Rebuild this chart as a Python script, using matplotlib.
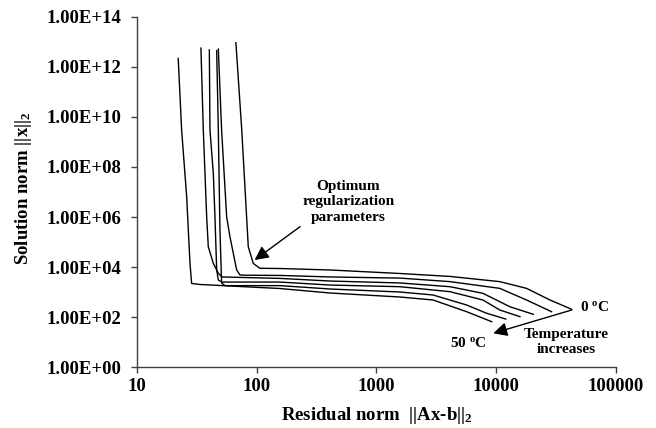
import matplotlib
matplotlib.use("Agg")
import matplotlib.pyplot as plt
import numpy as np
from matplotlib.ticker import FixedLocator, FuncFormatter, NullLocator

# -- Data: L-curves (residual norm vs solution norm) --
RES_0C = [67, 75, 82, 85, 93.5, 106, 156, 409, 1570, 4110, 10700, 17900, 28100, 42700]
SOL_0C = [9.4e12, 3.0e9, 1.4e6, 6.5e4, 1.4e4, 8.9e3, 8.7e3, 7.6e3, 5.5e3, 4.2e3, 2.6e3, 1.4e3, 479, 203]

RES_10C = [47.8, 50.9, 56.1, 59.8, 68, 72.5, 80, 156, 409, 1570, 4110, 10700, 17900, 29000]
SOL_10C = [5.2e12, 3.0e9, 1.0e6, 1.6e5, 7.6e3, 4.8e3, 4.7e3, 4.6e3, 4.0e3, 3.6e3, 2.6e3, 1.4e3, 479, 163]

RES_20C = [34.2, 35.8, 38.2, 39.4, 43.4, 47.8, 51.3, 156, 409, 1570, 4110, 7740, 13000, 20400]
SOL_20C = [5.7e12, 3.0e9, 1.0e6, 6.5e4, 1.4e4, 5.6e3, 4.0e3, 3.5e3, 2.75e3, 2.3e3, 1.63e3, 887, 258, 128]

RES_30C = [40.2, 40.7, 43.4, 44.8, 46.3, 47.8, 51.3, 156, 409, 1570, 4110, 7740, 10700, 15800]
SOL_30C = [4.8e12, 3.0e9, 5.6e7, 1.0e6, 7.6e3, 3.0e3, 2.5e3, 2.5e3, 1.9e3, 1.63e3, 1.03e3, 479, 191, 103]

RES_40C = [46.3, 47.8, 49.3, 50.9, 54.3, 156, 409, 1570, 2970, 5660, 8320, 12000]
SOL_40C = [4.5e12, 3.0e9, 3.0e5, 2.3e3, 1.8e3, 1.8e3, 1.32e3, 1.0e3, 759, 302, 141, 83]

RES_50C = [22.1, 23.6, 26.0, 27.7, 28.6, 33.6, 156, 409, 1570, 2970, 5660, 9160]
SOL_50C = [2.2e12, 3.0e9, 6.5e6, 1.45e4, 2.2e3, 2.0e3, 1.38e3, 912, 631, 479, 163, 65]

CURVES = [(RES_0C, SOL_0C), (RES_10C, SOL_10C), (RES_20C, SOL_20C),
          (RES_30C, SOL_30C), (RES_40C, SOL_40C), (RES_50C, SOL_50C)]

X_TICKS = [10, 100, 1000, 10000, 100000]
Y_TICKS = [1e0, 1e2, 1e4, 1e6, 1e8, 1e10, 1e12, 1e14]

# -- Style ---------------------------------------------------------------
plt.rcParams["font.family"] = "serif"
plt.rcParams["font.serif"] = ["Liberation Serif", "DejaVu Serif"]
plt.rcParams["font.weight"] = "bold"
plt.rcParams["mathtext.fontset"] = "custom"
plt.rcParams["mathtext.rm"] = "Liberation Serif:bold"
plt.rcParams["mathtext.it"] = "Liberation Serif:bold"
plt.rcParams["mathtext.bf"] = "Liberation Serif:bold"
plt.rcParams["mathtext.default"] = "rm"

AX_COL = "#404040"

fig = plt.figure(figsize=(6.56, 4.28), dpi=100)
ax = fig.add_axes([0.2088, 0.1425, 0.7302, 0.8178])

for res, sol in CURVES:
    ax.plot(res, sol, color="black", linewidth=1.0)

ax.set_xscale("log")
ax.set_yscale("log")
ax.set_xlim(10, 100000)
ax.set_ylim(1, 1e14)

ax.xaxis.set_major_locator(FixedLocator(X_TICKS))
ax.xaxis.set_minor_locator(NullLocator())
ax.xaxis.set_major_formatter(FuncFormatter(lambda v, _: f"{int(round(v))}"))
ax.yaxis.set_major_locator(FixedLocator(Y_TICKS))
ax.yaxis.set_minor_locator(NullLocator())
ax.yaxis.set_major_formatter(
    FuncFormatter(lambda v, _: f"1.00E+{int(round(np.log10(v))):02d}"))

ax.tick_params(axis="both", labelsize=13.5, length=4, width=1,
               color=AX_COL, direction="out")
ax.tick_params(axis="x", pad=4)
ax.tick_params(axis="y", pad=7)

for s in ("top", "right"):
    ax.spines[s].set_visible(False)
for s in ("left", "bottom"):
    ax.spines[s].set_color(AX_COL)
    ax.spines[s].set_linewidth(1.0)

ax.set_xlabel(r"Residual norm  $||\mathrm{Ax}$-$\mathrm{b}||_2$",
              fontsize=13.5, fontweight="bold")
ax.xaxis.set_label_coords(0.5, -0.108)
ax.set_ylabel(r"Solution norm $||\mathrm{x}||_2$", fontsize=13.5,
              fontweight="bold")
ax.yaxis.set_label_coords(-0.215, 0.51)

# -- Annotations -----------------------------------------------------------
ax.annotate("", xy=(96, 1.9e4), xytext=(230, 4.1e5),
            arrowprops=dict(arrowstyle="-|>,head_length=0.6,head_width=0.3",
                            color="black", lw=1.0, shrinkA=0, shrinkB=0,
                            mutation_scale=14))
ax.text(582, 4.1e6, "Optimum\nregularization\nparameters", ha="center",
        va="center", fontsize=11, fontweight="bold", linespacing=1.25)

ax.annotate("", xy=(9440, 22.3), xytext=(42700, 191),
            arrowprops=dict(arrowstyle="-|>,head_length=0.6,head_width=0.3",
                            color="black", lw=1.0, shrinkA=0, shrinkB=0,
                            mutation_scale=14))
ax.text(50000, 251, r"0 $^{\mathrm{o}}$C", ha="left", va="center",
        fontsize=11, fontweight="bold")
ax.text(8320, 9.4, r"50 $^{\mathrm{o}}$C", ha="right", va="center",
        fontsize=11, fontweight="bold")
ax.text(38200, 10, "Temperature\nincreases", ha="center", va="center",
        fontsize=11, fontweight="bold", linespacing=1.25)

fig.savefig("out.png", dpi=100, facecolor="white")
